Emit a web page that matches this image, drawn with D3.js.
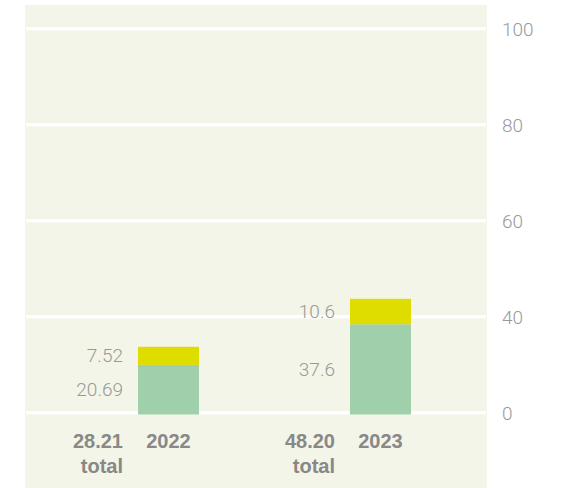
<!DOCTYPE html>
<html>
<head>
<meta charset="utf-8">
<script src="https://cdn.jsdelivr.net/npm/d3@7"></script>
<style>
  body { margin: 0; background: #fff; }
  text { font-family: "Liberation Sans", Arial, sans-serif; }
  .light { font-family: Roboto, "Liberation Sans", sans-serif; font-weight: 300; fill: #999; font-size: 19px; }
  .bold { font-weight: bold; fill: #888; font-size: 20px; }
</style>
</head>
<body>
<svg id="chart" width="561" height="488"></svg>
<script>
var years = ["2022", "2023"]
var baseValues = [20.69, 37.6]
var topValues = [7.52, 10.6]
var tickValues = [0, 40, 80, 120, 160]
var tickLabels = ["0", "40", "60", "80", "100"]

var rows = years.map((d, i) => ({year: d, base: baseValues[i], top: topValues[i]}))

var svg = d3.select('#chart')
var panel = {left: 25, right: 487, top: 5, bottom: 488}

svg.append('rect')
  .attr('x', panel.left).attr('y', panel.top)
  .attr('width', panel.right - panel.left).attr('height', panel.bottom - panel.top)
  .attr('fill', '#f2f5e7')

var y = d3.scaleLinear().domain([0, 160]).range([414.5, 30.5])
var x = d3.scalePoint().domain(years).range([168.5, 380.5])
var barW = 61

// gridlines (white, bottom edge sits on the value)
svg.append('g')
  .selectAll('line')
  .data(tickValues)
  .join('line')
  .attr('x1', panel.left + 1).attr('x2', panel.right - 1)
  .attr('y1', d => y(d) - 1.7).attr('y2', d => y(d) - 1.7)
  .attr('stroke', '#fff').attr('stroke-width', 3.4)

// right axis labels
var yAxis = d3.axisRight(y)
  .tickValues(tickValues)
  .tickSize(0)
  .tickPadding(15)
  .tickFormat((d, i) => tickLabels[i])

var ax = svg.append('g').attr('transform', 'translate(' + panel.right + ',0)').call(yAxis)
ax.select('.domain').remove()
ax.selectAll('text').attr('class', 'light').attr('dy', '0.35em').attr('y', -1.5)

var stack = d3.stack().keys(['base', 'top'])
var series = stack(rows)
var colors = {base: '#a0d0ab', top: '#dfdc00'}

svg.append('g')
  .selectAll('g')
  .data(series)
  .join('g')
  .attr('fill', d => colors[d.key])
  .selectAll('rect')
  .data(d => d)
  .join('rect')
  .attr('x', d => x(d.data.year) - barW / 2)
  .attr('width', barW)
  .attr('y', d => y(d[1]))
  .attr('height', d => y(d[0]) - y(d[1]))

// segment value labels to the left of each bar
series.forEach(s => {
  svg.append('g')
    .selectAll('text')
    .data(s)
    .join('text')
    .attr('class', 'light')
    .attr('text-anchor', 'end')
    .attr('x', d => x(d.data.year) - barW / 2 - 15)
    .attr('y', d => (y(d[0]) + y(d[1])) / 2)
    .attr('dy', '0.35em')
    .text(d => String(d.data[s.key]))
})

// year labels + totals
svg.append('g')
  .selectAll('text')
  .data(rows)
  .join('text')
  .attr('class', 'bold')
  .attr('text-anchor', 'middle')
  .attr('x', d => x(d.year))
  .attr('y', 447.5)
  .text(d => d.year)

var tot = svg.append('g')
  .selectAll('text')
  .data(rows)
  .join('text')
  .attr('class', 'bold')
  .attr('text-anchor', 'end')
  .attr('x', d => x(d.year) - barW / 2 - 15)
  .attr('y', 447.5)

tot.append('tspan').text(d => (d.base + d.top).toFixed(2))
tot.append('tspan')
  .attr('x', d => x(d.year) - barW / 2 - 15)
  .attr('dy', 25.8)
  .text('total')
</script>
</body>
</html>
